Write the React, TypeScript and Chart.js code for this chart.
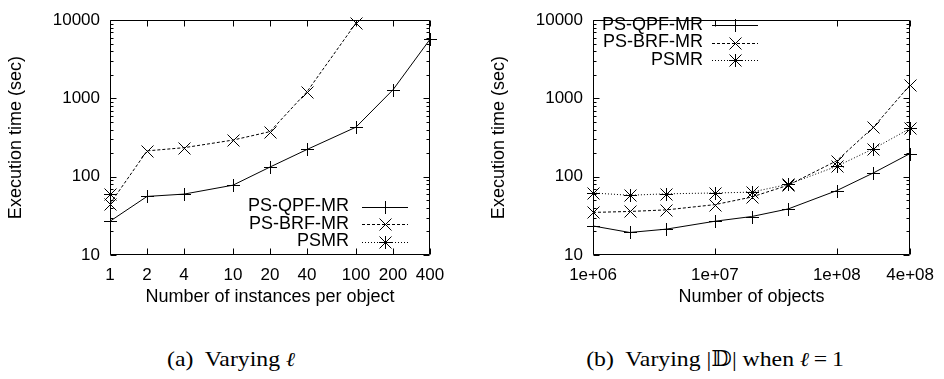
import React, { useEffect, useRef } from 'react';
import { Chart, registerables } from 'chart.js';

Chart.register(...registerables);

// ---------- data ----------
const seriesNames = ['PS-QPF-MR', 'PS-BRF-MR', 'PSMR'];
const yTitle = 'Execution time (sec)';
const yTicks = [10, 100, 1000, 10000];

// (a) Varying l
const leftX = [1, 2, 4, 10, 20, 40, 100, 200, 400];
const leftXTicks = [1, 2, 4, 10, 20, 40, 100, 200, 400];
const leftXTickLabels = ['1', '2', '4', '10', '20', '40', '100', '200', '400'];
const leftQPF = [27, 56, 60, 78, 133, 223, 430, 1290, 5700];
const leftBRF = [45, 214, 235, 294, 377, 1220, 9180];
const leftPSMR = [60];
const leftXTitle = 'Number of instances per object';

// (b) Varying |D| when l = 1
const rightX = [1e6, 2e6, 4e6, 1e7, 2e7, 4e7, 1e8, 2e8, 4e8];
const rightXTicks = [1e6, 1e7, 1e8, 4e8];
const rightXTickLabels = ['1e+06', '1e+07', '1e+08', '4e+08'];
const rightQPF = [23.5, 19.4, 21.4, 27, 31, 38.8, 66.5, 112, 198];
const rightBRF = [35, 36, 37.7, 44, 55, 78, 160, 430, 1490];
const rightPSMR = [62, 58, 60.5, 62, 63.5, 80, 136, 228, 414];
const rightXTitle = 'Number of objects';

// ---------- styling helpers ----------
const SANS = '"Liberation Sans", Arial, Helvetica, sans-serif';
const SERIF = '"Liberation Serif", "Times New Roman", "DejaVu Serif", serif';

type MarkerKind = 'plus' | 'cross' | 'star';
const markerKinds: MarkerKind[] = ['plus', 'cross', 'star'];
const dashes = [[], [3, 2], [1, 2]];

function drawMarker(ctx: CanvasRenderingContext2D, kind: MarkerKind, x: number, y: number) {
  const cx = Math.round(x);
  const cy = Math.round(y);
  const h = 6;
  ctx.beginPath();
  if (kind === 'plus' || kind === 'star') {
    ctx.moveTo(cx - h, cy + 0.5);
    ctx.lineTo(cx + h + 1, cy + 0.5);
    ctx.moveTo(cx + 0.5, cy - h);
    ctx.lineTo(cx + 0.5, cy + h + 1);
  }
  if (kind === 'cross' || kind === 'star') {
    ctx.moveTo(cx - h + 0.5, cy - h + 0.5);
    ctx.lineTo(cx + h + 0.5, cy + h + 0.5);
    ctx.moveTo(cx + h + 0.5, cy - h + 0.5);
    ctx.lineTo(cx - h + 0.5, cy + h + 0.5);
  }
  ctx.stroke();
}

const framePlugin = {
  id: 'gframe',
  beforeDatasetsDraw(chart: any, _args: any, opts: any) {
    const { ctx, chartArea: a, scales } = chart;
    ctx.save();
    ctx.strokeStyle = '#000';
    ctx.lineWidth = 1;
    const L = Math.round(a.left) + 0.5;
    const R = Math.round(a.right) - 0.5;
    const T = Math.round(a.top) + 0.5;
    const B = Math.round(a.bottom) - 0.5;
    ctx.beginPath();
    ctx.rect(L, T, R - L, B - T);
    for (let d = 10; d <= 10000; d *= 10) {
      for (let k = 1; k <= 9; k++) {
        const v = k * d;
        if (v > 10000) break;
        const len = k === 1 ? 6 : 3;
        const py = Math.round(scales.y.getPixelForValue(v)) + 0.5;
        ctx.moveTo(L, py);
        ctx.lineTo(L + len, py);
        ctx.moveTo(R, py);
        ctx.lineTo(R - len, py);
      }
    }
    for (const v of opts.xTicks as number[]) {
      const px = Math.round(scales.x.getPixelForValue(v)) + 0.5;
      ctx.moveTo(px, B);
      ctx.lineTo(px, B - 6);
      ctx.moveTo(px, T);
      ctx.lineTo(px, T + 6);
    }
    ctx.stroke();
    ctx.restore();
  },
};

const markerPlugin = {
  id: 'gmarkers',
  afterDatasetsDraw(chart: any) {
    const { ctx } = chart;
    ctx.save();
    ctx.strokeStyle = '#000';
    ctx.lineWidth = 1;
    chart.data.datasets.forEach((_ds: any, i: number) => {
      const meta = chart.getDatasetMeta(i);
      meta.data.forEach((el: any) => drawMarker(ctx, markerKinds[i], el.x, el.y));
    });
    ctx.restore();
  },
};

const legendPlugin = {
  id: 'glegend',
  afterDatasetsDraw(chart: any, _args: any, opts: any) {
    const { ctx } = chart;
    ctx.save();
    ctx.font = `18px ${SANS}`;
    ctx.fillStyle = '#000';
    ctx.textAlign = 'right';
    ctx.textBaseline = 'middle';
    chart.data.datasets.forEach((ds: any, i: number) => {
      const y = opts.y + i * opts.step;
      ctx.fillText(ds.label, opts.textRight, y);
      const ly = Math.round(y) + 0.5;
      ctx.strokeStyle = '#000';
      ctx.lineWidth = 1;
      ctx.setLineDash(ds.borderDash || []);
      ctx.beginPath();
      ctx.moveTo(opts.lineLeft, ly);
      ctx.lineTo(opts.lineRight, ly);
      ctx.stroke();
      ctx.setLineDash([]);
      drawMarker(ctx, markerKinds[i], (opts.lineLeft + opts.lineRight) / 2, y);
    });
    ctx.restore();
  },
};

type PanelProps = {
  xs: number[];
  series: number[][];
  xMin: number;
  xMax: number;
  xTicks: number[];
  xTickLabels: string[];
  xTitle: string;
  padRight: number;
  legend: { textRight: number; lineLeft: number; lineRight: number; y: number; step: number };
  width: number;
  height: number;
};

function Panel(p: PanelProps) {
  const ref = useRef<HTMLCanvasElement | null>(null);
  useEffect(() => {
    const datasets = p.series.map((vals, i) => ({
      label: seriesNames[i],
      data: vals.map((y, j) => ({ x: p.xs[j], y })),
      borderColor: '#000',
      backgroundColor: '#000',
      borderWidth: 1,
      borderDash: dashes[i],
      pointRadius: 0,
      pointHoverRadius: 0,
      tension: 0,
      fill: false,
      clip: false,
    }));
    const tickFont = { family: SANS, size: 17 };
    const titleFont = { family: SANS, size: 18 };
    const chart = new Chart(ref.current!, {
      type: 'line',
      data: { datasets: datasets as any },
      plugins: [framePlugin, markerPlugin, legendPlugin],
      options: {
        responsive: false,
        animation: false,
        events: [],
        layout: { padding: { left: 0, top: 12, right: p.padRight, bottom: 0 } },
        plugins: {
          legend: { display: false },
          tooltip: { enabled: false },
          gframe: { xTicks: p.xTicks },
          glegend: p.legend,
        } as any,
        scales: {
          x: {
            type: 'logarithmic',
            min: p.xMin,
            max: p.xMax,
            grid: { display: false, drawTicks: false },
            border: { display: false },
            afterBuildTicks: (s: any) => {
              s.ticks = p.xTicks.map((v) => ({ value: v }));
            },
            afterFit: (s: any) => {
              s.height = 55;
            },
            ticks: {
              autoSkip: false,
              maxRotation: 0,
              minRotation: 0,
              padding: 10,
              color: '#000',
              font: tickFont,
              callback: (v: any) => {
                const idx = p.xTicks.indexOf(Number(v));
                return idx >= 0 ? p.xTickLabels[idx] : '';
              },
            },
            title: {
              display: true,
              text: p.xTitle,
              color: '#000',
              font: titleFont,
              padding: { top: 0, bottom: 2 },
            },
          },
          y: {
            type: 'logarithmic',
            min: 10,
            max: 10000,
            grid: { display: false, drawTicks: false },
            border: { display: false },
            afterBuildTicks: (s: any) => {
              s.ticks = yTicks.map((v) => ({ value: v }));
            },
            afterFit: (s: any) => {
              s.width = 110;
            },
            ticks: {
              autoSkip: false,
              padding: 10,
              color: '#000',
              font: tickFont,
              callback: (v: any) => String(v),
            },
            title: {
              display: true,
              text: yTitle,
              color: '#000',
              font: titleFont,
              padding: { top: 5, bottom: 0 },
            },
          },
        } as any,
      },
    });
    return () => chart.destroy();
  }, []);
  return (
    <canvas
      ref={ref}
      width={p.width}
      height={p.height}
      style={{ display: 'block', width: p.width, height: p.height }}
    />
  );
}

const captionStyle: React.CSSProperties = {
  position: 'absolute',
  top: 348,
  textAlign: 'center',
  fontFamily: SERIF,
  fontSize: 22,
  lineHeight: '22px',
  color: '#000',
  whiteSpace: 'nowrap',
  transform: 'scaleX(1.08)',
};
const ell: React.CSSProperties = { fontStyle: 'italic', fontFamily: '"DejaVu Serif", serif', fontSize: 20 };

export default function App() {
  return (
    <div
      style={{
        position: 'absolute',
        left: 0,
        top: 0,
        width: 944,
        height: 379,
        background: '#fff',
        overflow: 'hidden',
      }}
    >
      <div style={{ position: 'absolute', left: 0, top: 0 }}>
        <Panel
          xs={leftX}
          series={[leftQPF, leftBRF, leftPSMR]}
          xMin={1}
          xMax={400}
          xTicks={leftXTicks}
          xTickLabels={leftXTickLabels}
          xTitle={leftXTitle}
          padRight={40}
          legend={{ textRight: 349, lineLeft: 362, lineRight: 408, y: 206.5, step: 17.5 }}
          width={470}
          height={310}
        />
      </div>
      <div style={{ position: 'absolute', left: 483, top: 0 }}>
        <Panel
          xs={rightX}
          series={[rightQPF, rightBRF, rightPSMR]}
          xMin={1e6}
          xMax={4e8}
          xTicks={rightXTicks}
          xTickLabels={rightXTickLabels}
          xTitle={rightXTitle}
          padRight={32}
          legend={{ textRight: 220, lineLeft: 229, lineRight: 275, y: 25, step: 17.5 }}
          width={461}
          height={310}
        />
      </div>
      <div style={{ ...captionStyle, left: 231 - 150, width: 300 }}>
        (a)&nbsp; Varying <span style={ell}>{'\u2113'}</span>
      </div>
      <div style={{ ...captionStyle, left: 715 - 200, width: 400 }}>
        (b)&nbsp; Varying |{'\u{1D53B}'}| when <span style={ell}>{'\u2113'}</span>
        {'\u2009'}={'\u2009'}1
      </div>
    </div>
  );
}
